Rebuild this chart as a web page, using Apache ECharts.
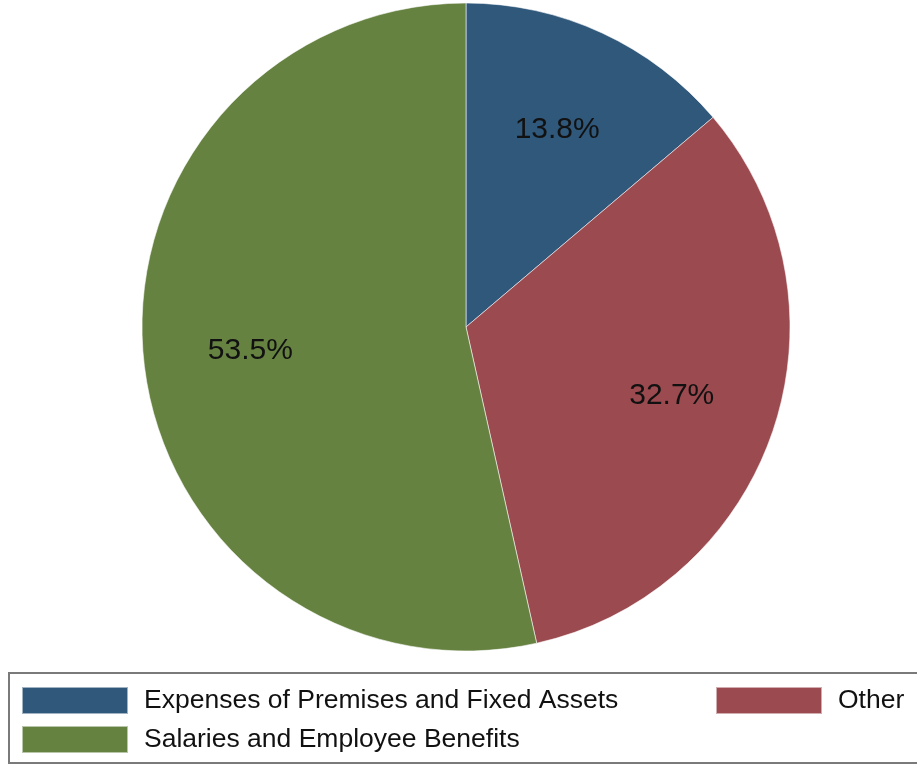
<!DOCTYPE html>
<html>
<head>
<meta charset="utf-8">
<script src="https://cdn.jsdelivr.net/npm/echarts@6/dist/echarts.min.js"></script>
<style>html,body{margin:0;padding:0;background:#fff;}#chart{width:917px;height:765px;}</style>
</head>
<body>
<div id="chart"></div>
<script>
const categories = ['Expenses of Premises and Fixed Assets', 'Other', 'Salaries and Employee Benefits'];
const values = [13.8, 32.7, 53.5];
const colors = ['#30587b', '#9b4a4f', '#668241'];

const pieData = categories.map((c, i) => ({ name: c, value: values[i], itemStyle: { color: colors[i] } }));
const labelData = categories.map((c, i) => ({ name: c, value: values[i] }));

const chart = echarts.init(document.getElementById('chart'));
const legendCommon = {
  orient: 'horizontal', itemWidth: 106, itemHeight: 27, icon: 'rect',
  selectedMode: false, z: 10, padding: 0,
  textStyle: { fontFamily: 'Liberation Sans', fontSize: 26.5, color: '#111', padding: [0, 0, 0, 11] }
};
chart.setOption({
  animation: false,
  backgroundColor: '#fff',
  graphic: [{
    type: 'rect', z: 1, silent: true,
    shape: { x: 9, y: 673, width: 930, height: 90 },
    style: { fill: '#fff', stroke: '#7a7a7a', lineWidth: 2 }
  }],
  legend: [
    Object.assign({ data: [categories[0]], left: 21, top: 686 }, legendCommon),
    Object.assign({ data: [categories[1]], left: 715, top: 686 }, legendCommon),
    Object.assign({ data: [categories[2]], left: 21, top: 725 }, legendCommon)
  ],
  series: [
    {
      type: 'pie', center: [466, 327], radius: [0, 324],
      startAngle: 90, clockwise: true, silent: true,
      itemStyle: { borderColor: 'rgba(255,255,255,0.55)', borderWidth: 1 },
      label: { show: false }, labelLine: { show: false },
      emphasis: { disabled: true },
      data: pieData
    },
    {
      type: 'pie', center: [466, 327], radius: [0, 428],
      startAngle: 90, clockwise: true, silent: true,
      itemStyle: { color: 'rgba(0,0,0,0)', borderWidth: 0 },
      label: {
        show: true, position: 'inside',
        formatter: p => p.value.toFixed(1) + '%',
        fontFamily: 'Liberation Sans', fontSize: 30, color: '#111'
      },
      labelLine: { show: false },
      emphasis: { disabled: true },
      data: labelData
    }
  ]
});
</script>
</body>
</html>
